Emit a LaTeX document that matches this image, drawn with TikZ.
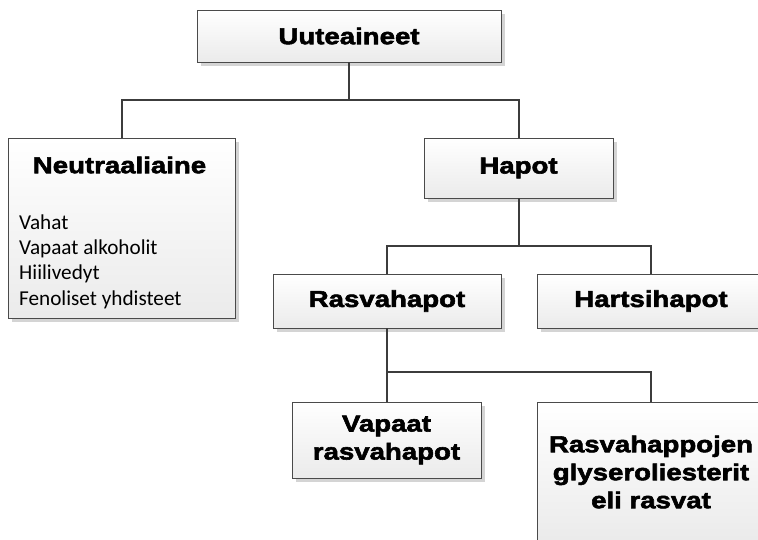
\documentclass[tikz,border=0pt]{standalone}
\usepackage{fontspec}
\setmainfont{Carlito}
\newfontfamily\headfont{Liberation Sans}[UprightFont={* Bold},FakeStretch=1.2,FakeBold=2.5]
\newfontfamily\bodyfont{Carlito}
\usetikzlibrary{shadows}
\definecolor{boxline}{HTML}{4A4A4A}
\definecolor{connline}{HTML}{3C3C3C}
\definecolor{shadowgray}{HTML}{D4D4D4}
\tikzset{
  orgbox/.style={draw=boxline, line width=0.9pt, top color=white, bottom color=black!8,
    rectangle, inner sep=0pt, align=center,
    font=\headfont\fontsize{23}{28}\selectfont,
    drop shadow={shadow xshift=3.5pt, shadow yshift=-3.5pt, fill=shadowgray, opacity=1}},
  conn/.style={draw=connline, line width=2pt},
  bodytext/.style={inner sep=0pt, align=left, font=\bodyfont\fontsize{21.2}{25.3}\selectfont},
  headtext/.style={inner sep=0pt, font=\headfont\fontsize{23}{28}\selectfont}
}
\begin{document}
\begin{tikzpicture}[x=1pt,y=1pt]
\useasboundingbox (0,0) rectangle (758,-539);
\clip (0,0) rectangle (758,-539);
\fill[white] (0,0) rectangle (758,-539);
% boxes
\node[orgbox, minimum width=304pt, minimum height=52pt] (u) at (349,-36) {Uuteaineet};
\node[orgbox, minimum width=227pt, minimum height=180pt] (n) at (121.5,-228) {};
\node[orgbox, minimum width=189pt, minimum height=60pt] (h) at (518.5,-168) {Hapot};
\node[orgbox, minimum width=228pt, minimum height=54pt] (r) at (387,-301) {Rasvahapot};
\node[orgbox, minimum width=228pt, minimum height=54pt] (ht) at (651,-301) {Hartsihapot};
\node[orgbox, minimum width=189pt, minimum height=76pt] (v) at (386.5,-440) {Vapaat\\rasvahapot};
\node[orgbox, minimum width=228pt, minimum height=140pt] (g) at (651,-472) {Rasvahappojen\\glyseroliesterit\\eli rasvat};
% texts in Neutraaliaine box
\node[headtext] (nh) at (119.5,-165) {Neutraaliaine};
\node[bodytext, anchor=base west] (nl) at (19,-305) {Vahat\\Vapaat alkoholit\\Hiilivedyt\\Fenoliset yhdisteet};
% connectors
\coordinate (uj) at ([yshift=-38pt]u.south);
\draw[conn] (u.south) -- (uj);
\draw[conn] (n.north) |- (uj) -| (h.north);
\coordinate (hj) at ([yshift=-48pt]h.south);
\draw[conn] (h.south) -- (hj);
\draw[conn] (r.north) |- (hj) -| (ht.north);
\coordinate (rj) at ([yshift=-44pt]r.south);
\draw[conn] (r.south) -- (rj);
\draw[conn] (v.north) |- (rj) -| (g.north);
\end{tikzpicture}
\end{document}
